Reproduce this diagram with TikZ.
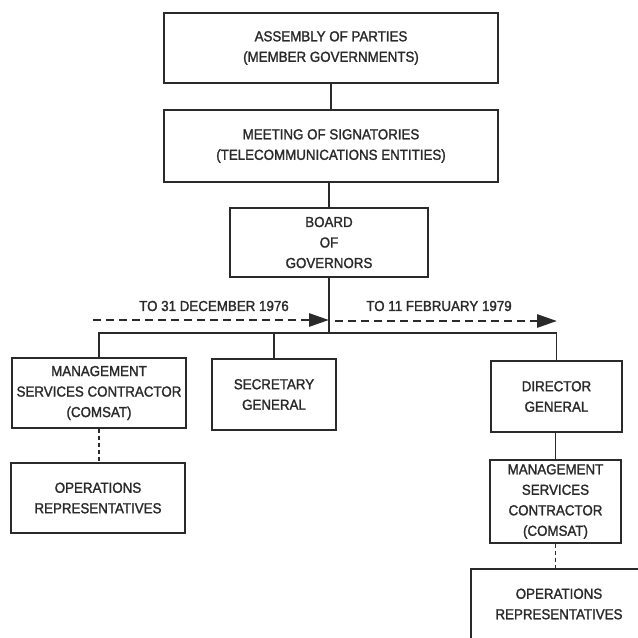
\documentclass[tikz,border=0pt]{standalone}
\usepackage{fontspec}
\setmainfont[FakeStretch=0.92, FakeBold=1.5]{Liberation Sans}
\usetikzlibrary{arrows.meta}
\definecolor{ink}{HTML}{2A2A2A}

\begin{document}
\begin{tikzpicture}[x=1pt, y=-1pt,
    orgbox/.style={draw=ink, line width=1.3pt, align=center, inner sep=0pt, text=ink,
        font=\fontsize{14.5}{20.5}\selectfont},
    link/.style={draw=ink, line width=1.3pt},
    dotlink/.style={draw=ink, line width=1.3pt, dash pattern=on 4pt off 3pt},
    period/.style={draw=ink, line width=2.8pt, dash pattern=on 8pt off 5pt,
        -{Triangle[length=20pt, width=13pt]}},
    periodlbl/.style={text=ink, font=\fontsize{14.5}{16}\selectfont}]
    \clip (0,0) rectangle (638,638);
    \fill[white] (0,0) rectangle (638,638);

    % Top of the chart
    \node[orgbox, minimum width=334pt, minimum height=70pt] (asm) at (331,48)
        {ASSEMBLY OF PARTIES\\(MEMBER GOVERNMENTS)};
    \node[orgbox, minimum width=334pt, minimum height=72pt] (mtg) at (331,146)
        {MEETING OF SIGNATORIES\\(TELECOMMUNICATIONS ENTITIES)};
    \node[orgbox, minimum width=198pt, minimum height=69pt] (board) at (329,242.5)
        {BOARD\\OF\\GOVERNORS};

    % Second level
    \node[orgbox, minimum width=174pt, minimum height=70pt] (msc) at (99,393)
        {MANAGEMENT\\SERVICES CONTRACTOR\\(COMSAT)};
    \node[orgbox, minimum width=124pt, minimum height=71pt] (secgen) at (274,394.5)
        {SECRETARY\\GENERAL};
    \node[orgbox, minimum width=131pt, minimum height=71pt] (dirgen) at (556.5,396.5)
        {DIRECTOR\\GENERAL};

    % Lower boxes
    \node[orgbox, minimum width=174pt, minimum height=70pt] (ops) at (98,498)
        {OPERATIONS\\REPRESENTATIVES};
    \node[orgbox, minimum width=131pt, minimum height=83pt] (msc2) at (555.5,501.5)
        {MANAGEMENT\\SERVICES\\CONTRACTOR\\(COMSAT)};
    \node[orgbox, minimum width=176pt, minimum height=70pt] (ops2) at (559,604)
        {OPERATIONS\\REPRESENTATIVES};

    % Connectors
    \coordinate (bus) at (329,333);
    \draw[link] (asm) -- (mtg);
    \draw[link] (mtg.south -| board.north) -- (board);
    \draw[link] (board.south) -- (bus);
    \draw[link] (msc.north) |- (bus) -| (dirgen.north);
    \draw[link] (secgen.north) -- (secgen.north |- bus);
    \draw[link] (dirgen.south -| msc2.north) -- (msc2.north);
    \draw[dotlink] (msc.south) -- (msc.south |- ops.north);
    \draw[dotlink] (msc2.south) -- (msc2.south |- ops2.north);

    % Periods
    \coordinate (p1) at (93,320);
    \coordinate (p2) at (335,321);
    \coordinate (p3) at (557,321);
    \draw[period] (p1) -- (bus |- p1);
    \draw[period] (p2) -- (p3);
    \node[periodlbl] (lbl1) at (214,306) {TO 31 DECEMBER 1976};
    \node[periodlbl] (lbl2) at (439,306) {TO 11 FEBRUARY 1979};
\end{tikzpicture}
\end{document}
